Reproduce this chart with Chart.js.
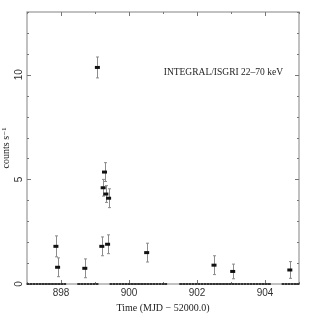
<!DOCTYPE html>
<html><head><meta charset="utf-8">
<script src="https://cdn.jsdelivr.net/npm/chart.js@4/dist/chart.umd.min.js"></script>
<style>html,body{margin:0;padding:0;background:#fff}#wrap{width:309px;height:324px}</style>
</head><body><div id="wrap"><canvas id="c" width="309" height="324"></canvas></div>
<script>
// Detections (time MJD-52000, rate counts/s, 1-sigma error)
const detTime = [897.85, 897.90, 898.70, 899.07, 899.20, 899.24, 899.28, 899.32, 899.37, 899.40, 900.52, 902.50, 903.05, 904.73];
const detRate = [1.80, 0.80, 0.75, 10.35, 1.80, 4.60, 5.35, 4.30, 1.90, 4.10, 1.50, 0.90, 0.60, 0.67];
const detErr  = [0.50, 0.45, 0.45, 0.50, 0.45, 0.40, 0.45, 0.40, 0.45, 0.45, 0.45, 0.45, 0.35, 0.40];
// Time bins with zero rate
const zeroTime = [897.03, 897.12, 897.21, 897.30, 897.39, 897.48, 897.57, 897.66, 897.75, 897.84, 897.93, 898.02, 898.11,
  898.52, 898.61, 898.70, 898.79, 898.88, 898.97, 899.06,
  899.47, 899.56, 899.65, 899.74, 899.83, 899.92, 900.01, 900.10, 900.19, 900.28, 900.37, 900.46, 900.55, 900.64, 900.73, 900.82, 900.91, 901.00, 901.08,
  901.52, 901.61, 901.70, 901.79, 901.88, 901.97, 902.06, 902.15, 902.24, 902.33, 902.42, 902.51, 902.60, 902.69, 902.78, 902.87, 902.96, 903.05, 903.14, 903.23, 903.32, 903.41, 903.50, 903.59, 903.68, 903.77, 903.86, 903.95, 904.04, 904.13,
  904.53, 904.62, 904.71, 904.80, 904.89, 904.97];
const zeroRate = zeroTime.map(() => 0);
const xTicks = [898, 900, 902, 904];
const xMinor = [897, 899, 901, 903, 905];
const yTicks = [0, 5, 10];
const yMinor = [1, 2, 3, 4, 6, 7, 8, 9, 11, 12, 13];
const label = "INTEGRAL/ISGRI 22\u201370 keV";

const frameColor = '#a0a0a0';

const framePlugin = {
  id: 'frame',
  beforeDatasetsDraw(chart) {
    const {ctx, chartArea: a, scales: {x, y}} = chart;
    ctx.save();
    // error bars
    ctx.strokeStyle = '#8c8c8c';
    ctx.lineWidth = 1;
    detTime.forEach((t, i) => {
      const px = Math.round(x.getPixelForValue(t)) + 0.5;
      const y1 = y.getPixelForValue(detRate[i] - detErr[i]);
      const y2 = y.getPixelForValue(detRate[i] + detErr[i]);
      ctx.beginPath();
      ctx.moveTo(px, y1); ctx.lineTo(px, y2);
      ctx.moveTo(px - 1.5, y1); ctx.lineTo(px + 1.5, y1);
      ctx.moveTo(px - 1.5, y2); ctx.lineTo(px + 1.5, y2);
      ctx.stroke();
    });
    // frame
    ctx.strokeStyle = frameColor;
    ctx.lineWidth = 1.3;
    ctx.strokeRect(a.left, a.top, a.right - a.left, a.bottom - a.top);
    // inward ticks on all sides
    ctx.strokeStyle = '#777';
    ctx.lineWidth = 1;
    const tickX = (v, len) => {
      const px = Math.round(x.getPixelForValue(v)) + 0.5;
      ctx.beginPath();
      ctx.moveTo(px, a.bottom); ctx.lineTo(px, a.bottom - len);
      ctx.moveTo(px, a.top); ctx.lineTo(px, a.top + len);
      ctx.stroke();
    };
    const tickY = (v, len) => {
      const py = Math.round(y.getPixelForValue(v)) + 0.5;
      ctx.beginPath();
      ctx.moveTo(a.left, py); ctx.lineTo(a.left + len, py);
      ctx.moveTo(a.right, py); ctx.lineTo(a.right - len, py);
      ctx.stroke();
    };
    xTicks.forEach(v => tickX(v, 4));
    xMinor.forEach(v => tickX(v, 2));
    yTicks.forEach(v => tickY(v, 4));
    yMinor.forEach(v => tickY(v, 2));
    // annotation
    ctx.fillStyle = '#222';
    ctx.font = '9.5px "Liberation Serif", "DejaVu Serif", serif';
    ctx.textAlign = 'right';
    ctx.textBaseline = 'middle';
    ctx.fillText(label, a.right - 16, 72);
    ctx.restore();
  }
};

new Chart(document.getElementById('c'), {
  type: 'scatter',
  data: {
    datasets: [
      {
        data: zeroTime.map((t, i) => ({x: t, y: zeroRate[i]})),
        pointStyle: 'line', pointRadius: 1.4, borderWidth: 2,
        borderColor: '#333', backgroundColor: '#333', pointHoverRadius: 1.4
      },
      {
        data: detTime.map((t, i) => ({x: t, y: detRate[i]})),
        pointStyle: 'line', pointRadius: 2.5, borderWidth: 3,
        borderColor: '#111', backgroundColor: '#111', pointHoverRadius: 2.5
      }
    ]
  },
  options: {
    responsive: false,
    animation: false,
    clip: false,
    events: [],
    layout: {padding: {left: 0, right: 10, top: 12, bottom: 0}},
    plugins: {legend: {display: false}, tooltip: {enabled: false}},
    scales: {
      x: {
        type: 'linear', min: 897, max: 905,
        afterBuildTicks: s => { s.ticks = xTicks.map(v => ({value: v})); },
        afterFit: s => { s.height = 40; },
        grid: {display: false, drawTicks: false},
        border: {display: false},
        ticks: {
          padding: 3, color: '#333',
          font: {family: '"Liberation Sans", Arial, sans-serif', size: 10},
          callback: v => String(v)
        },
        title: {
          display: true, text: 'Time (MJD \u2212 52000.0)', color: '#222',
          font: {family: '"Liberation Serif", "DejaVu Serif", serif', size: 10},
          padding: {top: 0, bottom: 10}
        }
      },
      y: {
        type: 'linear', min: 0, max: 13,
        afterBuildTicks: s => { s.ticks = yTicks.map(v => ({value: v})); },
        afterFit: s => { s.width = 27; },
        grid: {display: false, drawTicks: false},
        border: {display: false},
        ticks: {
          padding: 2, color: '#333', minRotation: 90, maxRotation: 90, crossAlign: 'center',
          font: {family: '"Liberation Sans", Arial, sans-serif', size: 10},
          callback: v => String(v)
        },
        title: {
          display: true, text: 'counts s\u207B\u00B9', color: '#222',
          font: {family: '"Liberation Serif", "DejaVu Serif", serif', size: 10},
          padding: {top: 0, bottom: 0}
        }
      }
    }
  },
  plugins: [framePlugin]
});
</script></body></html>
